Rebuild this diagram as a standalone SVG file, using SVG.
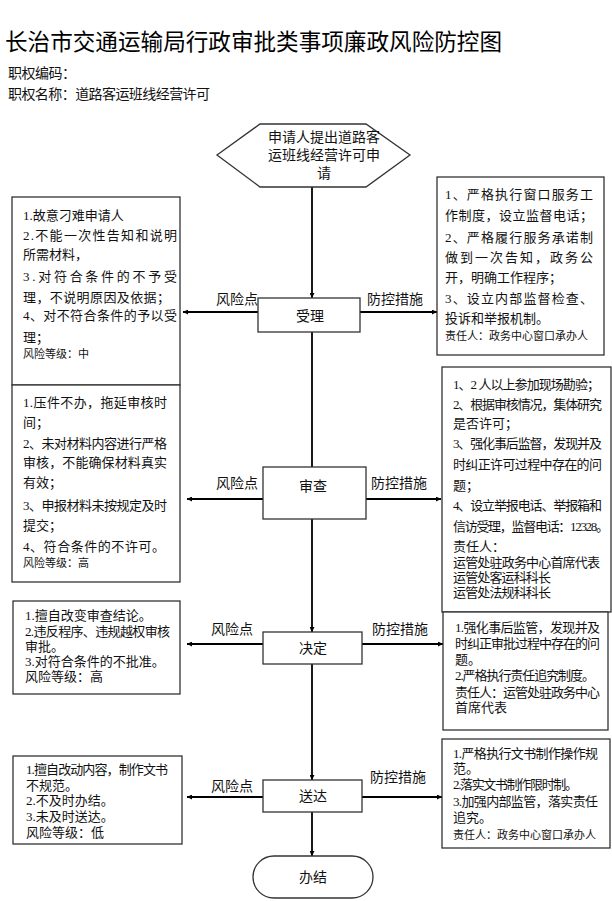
<svg xmlns="http://www.w3.org/2000/svg" width="612" height="901" viewBox="0 0 612 901">
<defs>
<marker id="ah" viewBox="0 0 10 10" refX="10" refY="5" markerWidth="5" markerHeight="5" orient="auto" markerUnits="userSpaceOnUse">
<path d="M0,0 L10,5 L0,10 z" fill="#000"/>
</marker>
<style>
.box{fill:#fff;stroke:#333;stroke-width:1.3}
.conn{stroke:#000;stroke-width:1.8;fill:none}
.t{font-family:"Liberation Serif","Noto Sans CJK SC",serif;font-size:13px;fill:#111}
.s{font-family:"Liberation Serif","Noto Sans CJK SC",serif;font-size:11px;fill:#111}
.lab{font-family:"Liberation Sans","Noto Sans CJK SC",sans-serif;font-size:14px;fill:#111}
.nd{font-family:"Liberation Sans","Noto Sans CJK SC",sans-serif;font-size:14px;fill:#111;text-anchor:middle}
</style>
</defs>
<rect width="612" height="901" fill="#fff"/>
<text x="5" y="50" font-family="Liberation Sans,Noto Sans CJK SC,sans-serif" font-size="23" textLength="497" lengthAdjust="spacingAndGlyphs" fill="#000">长治市交通运输局行政审批类事项廉政风险防控图</text>
<text x="8" y="78" class="lab" textLength="68">职权编码：</text>
<text x="8" y="99" class="lab" textLength="202">职权名称：道路客运班线经营许可</text>

<g id="connectors">
<line class="conn" x1="312" y1="187" x2="312" y2="298" marker-end="url(#ah)"/>
<line class="conn" x1="312" y1="332" x2="312" y2="478" marker-end="url(#ah)"/>
<line class="conn" x1="312" y1="519" x2="312" y2="632" marker-end="url(#ah)"/>
<line class="conn" x1="312" y1="664" x2="312" y2="780" marker-end="url(#ah)"/>
<line class="conn" x1="312" y1="812" x2="312" y2="856" marker-end="url(#ah)"/>
<line class="conn" x1="258" y1="312" x2="183" y2="312" marker-end="url(#ah)"/>
<line class="conn" x1="360" y1="312" x2="437" y2="312" marker-end="url(#ah)"/>
<line class="conn" x1="263" y1="499" x2="187" y2="499" marker-end="url(#ah)"/>
<line class="conn" x1="366" y1="499" x2="441" y2="499" marker-end="url(#ah)"/>
<line class="conn" x1="263" y1="644" x2="187" y2="644" marker-end="url(#ah)"/>
<line class="conn" x1="362" y1="644" x2="443" y2="644" marker-end="url(#ah)"/>
<line class="conn" x1="263" y1="797" x2="187" y2="797" marker-end="url(#ah)"/>
<line class="conn" x1="362" y1="797" x2="442" y2="797" marker-end="url(#ah)"/>
<text x="216" y="304" class="lab">风险点</text>
<text x="367" y="304" class="lab">防控措施</text>
<text x="216" y="488" class="lab">风险点</text>
<text x="371" y="488" class="lab">防控措施</text>
<text x="211" y="634" class="lab">风险点</text>
<text x="372" y="634" class="lab">防控措施</text>
<text x="211" y="791" class="lab">风险点</text>
<text x="370" y="782" class="lab">防控措施</text>
</g>

<g id="start">
<polygon class="box" points="217,155 260,124 366,124 410,155 366,187 260,187"/>
<text x="324" y="142" class="nd">申请人提出道路客</text>
<text x="324" y="160" class="nd">运班线经营许可申</text>
<text x="324" y="178" class="nd">请</text>
</g>

<g id="shouli">
<rect class="box" x="258" y="298" width="102" height="34"/>
<text x="310" y="321" class="nd" font-size="15">受理</text>
</g>
<g id="shencha">
<rect class="box" x="263" y="467" width="103" height="52"/>
<text x="313" y="491" class="nd" font-size="17">审查</text>
</g>
<g id="jueding">
<rect class="box" x="263" y="632" width="99" height="32"/>
<text x="313" y="653" class="nd">决定</text>
</g>
<g id="songda">
<rect class="box" x="263" y="780" width="99" height="32"/>
<text x="313" y="801" class="nd">送达</text>
</g>
<g id="banjie">
<rect class="box" x="253" y="856" width="120" height="42" rx="21"/>
<text x="313" y="882" class="nd" font-size="15">办结</text>
</g>

<g id="risk1">
<rect class="box" x="12" y="197" width="168" height="188"/>
<text class="t" x="23" y="220">1.故意刁难申请人</text>
<text class="t" x="23" y="240" textLength="154">2.不能一次性告知和说明</text>
<text class="t" x="23" y="259">所需材料，</text>
<text class="t" x="23" y="281" textLength="154">3.对符合条件的不予受</text>
<text class="t" x="23" y="302" textLength="147">理，不说明原因及依据；</text>
<text class="t" x="23" y="320" textLength="154">4、对不符合条件的予以受</text>
<text class="t" x="23" y="342">理；</text>
<text class="s" x="23" y="358">风险等级：中</text>
</g>
<g id="risk2">
<rect class="box" x="12" y="385" width="168" height="197"/>
<text class="t" x="23" y="407" textLength="144">1.压件不办，拖延审核时</text>
<text class="t" x="23" y="427">间；</text>
<text class="t" x="23" y="448" textLength="144">2、未对材料内容进行严格</text>
<text class="t" x="23" y="467" textLength="144">审核，不能确保材料真实</text>
<text class="t" x="23" y="487">有效；</text>
<text class="t" x="23" y="510" textLength="144">3、申报材料未按规定及时</text>
<text class="t" x="23" y="530">提交；</text>
<text class="t" x="23" y="551" font-size="14" textLength="142">4、符合条件的不许可。</text>
<text class="s" x="23" y="567">风险等级：高</text>
</g>
<g id="risk3">
<rect class="box" x="13" y="601" width="167" height="93"/>
<text class="t" x="25" y="620" font-size="12">1.擅自改变审查结论。</text>
<text class="t" x="25" y="636" font-size="12" textLength="145">2.违反程序、违规越权审核</text>
<text class="t" x="25" y="651" font-size="12">审批。</text>
<text class="t" x="25" y="666" font-size="12">3.对符合条件的不批准。</text>
<text class="t" x="25" y="681" font-size="12">风险等级：高</text>
</g>
<g id="risk4">
<rect class="box" x="13" y="756" width="169" height="88"/>
<text class="t" x="26" y="774" font-size="12" textLength="142">1.擅自改动内容，制作文书</text>
<text class="t" x="26" y="790" font-size="12">不规范。</text>
<text class="t" x="26" y="805" font-size="12">2.不及时办结。</text>
<text class="t" x="26" y="821" font-size="12">3.未及时送达。</text>
<text class="t" x="26" y="837" font-size="12">风险等级：低</text>
</g>

<g id="ctrl1">
<rect class="box" x="437" y="177" width="167" height="178"/>
<text class="t" x="445" y="199" font-size="13.5" textLength="148">1、严格执行窗口服务工</text>
<text class="t" x="445" y="220" font-size="13.5" textLength="148">作制度，设立监督电话；</text>
<text class="t" x="445" y="242" font-size="13.5" textLength="148">2、严格履行服务承诺制</text>
<text class="t" x="445" y="262" font-size="13.5" textLength="148">做到一次告知，政务公</text>
<text class="t" x="445" y="282" font-size="13.5">开，明确工作程序；</text>
<text class="t" x="445" y="303" font-size="13.5" textLength="148">3、设立内部监督检查、</text>
<text class="t" x="445" y="323" font-size="13.5">投诉和举报机制。</text>
<text class="s" x="445" y="340" font-size="10">责任人：政务中心窗口承办人</text>
</g>
<g id="ctrl2">
<rect class="box" x="442" y="367" width="169" height="245"/>
<text class="t" x="453" y="389" font-size="12" textLength="147">1、2 人以上参加现场勘验；</text>
<text class="t" x="453" y="409" font-size="12" textLength="149">2、根据审核情况，集体研究</text>
<text class="t" x="453" y="428" font-size="12">是否许可；</text>
<text class="t" x="453" y="448" font-size="12" textLength="149">3、强化事后监督，发现并及</text>
<text class="t" x="453" y="469" font-size="12" textLength="149">时纠正许可过程中存在的问</text>
<text class="t" x="453" y="490" font-size="12">题；</text>
<text class="t" x="453" y="510" font-size="12" textLength="149">4、设立举报电话、举报箱和</text>
<text class="t" x="453" y="531" font-size="12" textLength="156">信访受理，监督电话：12328。</text>
<text class="t" x="453" y="551" font-size="12">责任人：</text>
<text class="t" x="453" y="567" font-size="12" textLength="147">运管处驻政务中心首席代表</text>
<text class="t" x="453" y="582" font-size="12" textLength="98">运管处客运科科长</text>
<text class="t" x="453" y="597" font-size="12" textLength="98">运管处法规科科长</text>
</g>
<g id="ctrl3">
<rect class="box" x="443" y="612" width="165" height="118"/>
<text class="t" x="455" y="632" font-size="12" textLength="145">1.强化事后监管，发现并及</text>
<text class="t" x="455" y="648" font-size="12" textLength="145">时纠正审批过程中存在的问</text>
<text class="t" x="455" y="664" font-size="12">题。</text>
<text class="t" x="455" y="680" font-size="12" textLength="140">2.严格执行责任追究制度。</text>
<text class="t" x="455" y="697" font-size="12" textLength="145">责任人：运管处驻政务中心</text>
<text class="t" x="455" y="712" font-size="12">首席代表</text>
</g>
<g id="ctrl4">
<rect class="box" x="442" y="739" width="168" height="109"/>
<text class="t" x="453" y="758" font-size="12" textLength="145">1.严格执行文书制作操作规</text>
<text class="t" x="453" y="773" font-size="12">范。</text>
<text class="t" x="453" y="789" font-size="12" textLength="125">2.落实文书制作限时制。</text>
<text class="t" x="453" y="806" font-size="12" textLength="145">3.加强内部监管，落实责任</text>
<text class="t" x="453" y="822" font-size="12">追究。</text>
<text class="s" x="453" y="839" font-size="10.5">责任人：政务中心窗口承办人</text>
</g>
</svg>
